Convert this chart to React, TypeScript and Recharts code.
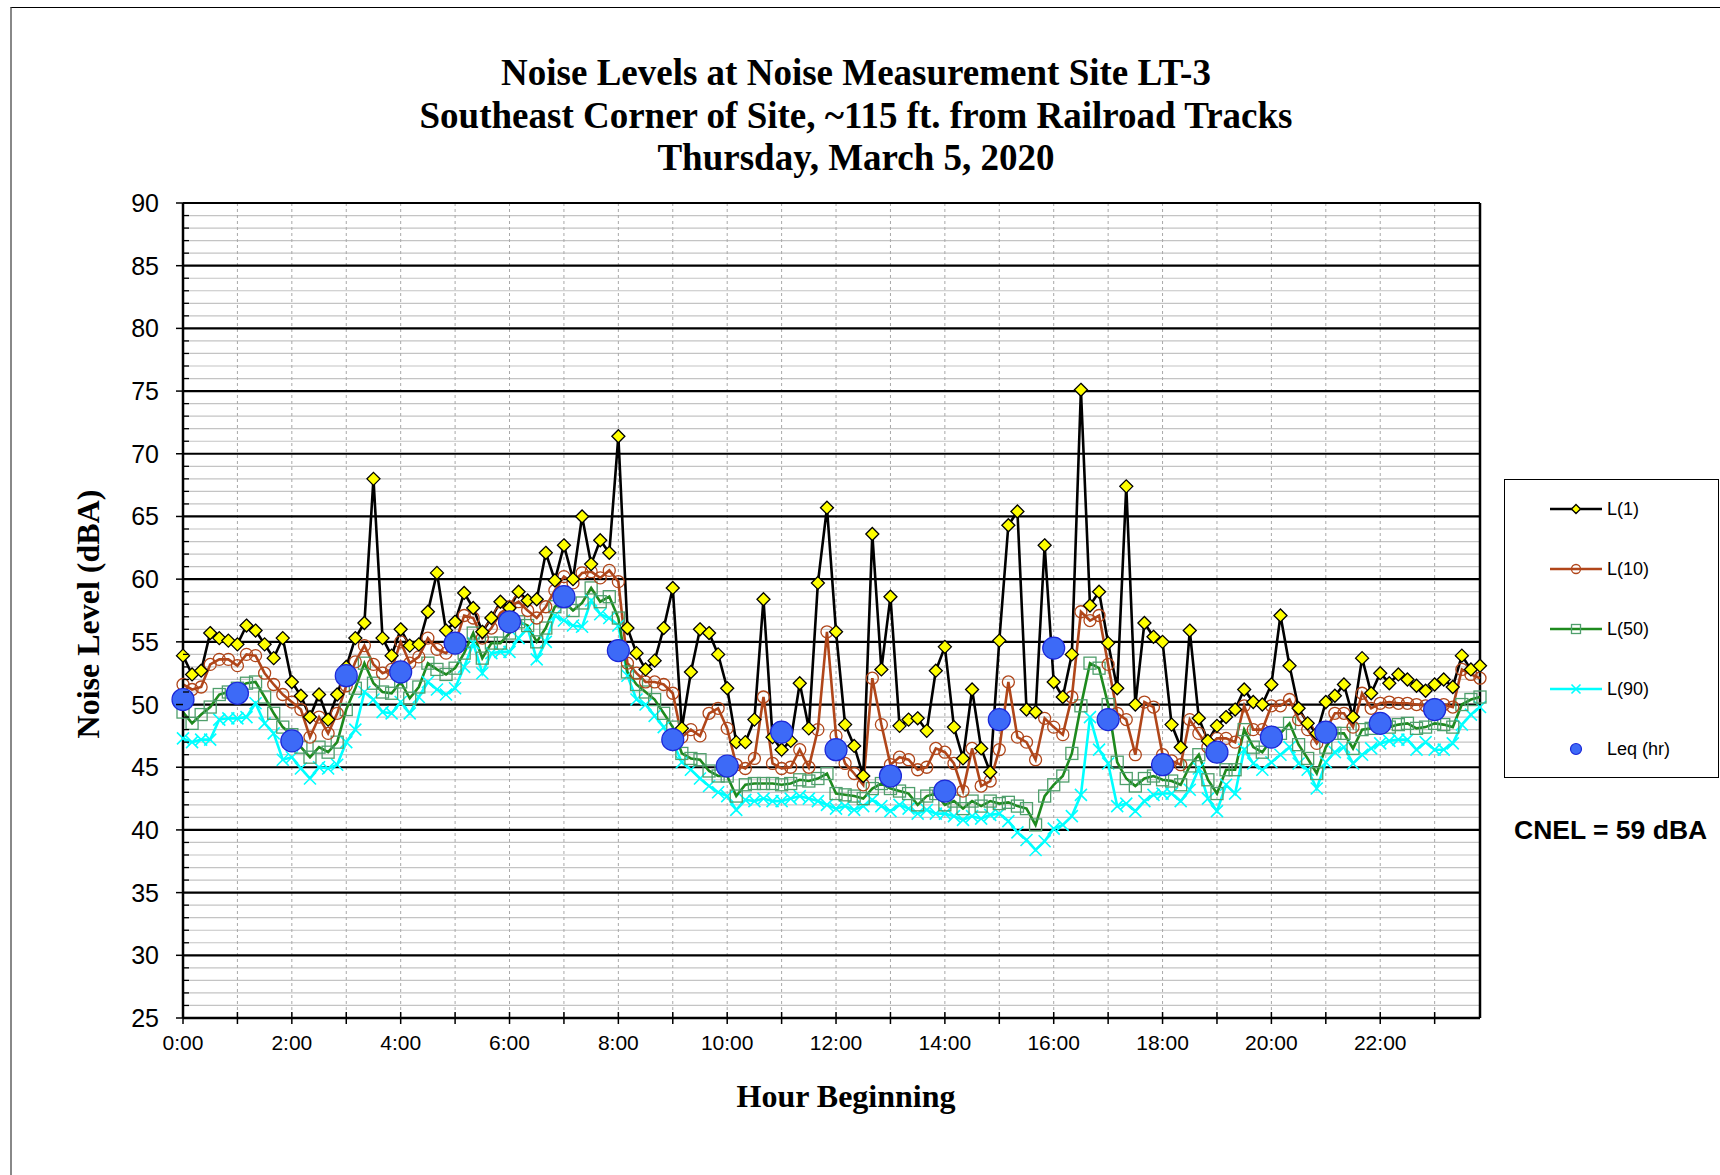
import React from 'react';
import {
  ComposedChart,
  Line,
  XAxis,
  YAxis,
  CartesianGrid,
  ReferenceLine,
} from 'recharts';

// 10-minute samples, 0:00 .. 23:50
const l1Values = [
  53.9, 52.4, 52.7, 55.7, 55.3, 55.1, 54.8, 56.3, 55.9, 54.8, 53.7, 55.3, 51.8, 50.7, 49.0, 50.8, 48.8, 50.8,
  53.0, 55.3, 56.5, 68.0, 55.3, 53.9, 56.0, 54.7, 54.8, 57.4, 60.5, 55.9, 56.6, 58.9, 57.7, 55.8, 56.9, 58.2,
  57.7, 59.0, 58.3, 58.4, 62.1, 59.9, 62.7, 60.0, 65.0, 61.2, 63.1, 62.1, 71.4, 56.1, 54.1, 52.8, 53.5, 56.1,
  59.3, 48.1, 52.6, 56.0, 55.7, 54.0, 51.3, 47.0, 47.0, 48.8, 58.4, 47.4, 46.4, 47.1, 51.7, 48.1, 59.7, 65.7,
  55.8, 48.4, 46.7, 44.3, 63.6, 52.8, 58.6, 48.3, 48.8, 48.9, 47.9, 52.7, 54.6, 48.2, 45.7, 51.2, 46.5, 44.6,
  55.1, 64.3, 65.4, 49.6, 49.4, 62.7, 51.8, 50.6, 54.0, 75.1, 57.9, 59.0, 54.9, 51.3, 67.4, 50.0, 56.5, 55.4,
  55.0, 48.4, 46.6, 55.9, 48.9, 47.1, 48.3, 49.0, 49.6, 51.2, 50.2, 50.0, 51.6, 57.1, 53.1, 49.7, 48.5, 47.7,
  50.2, 50.7, 51.6, 49.0, 53.7, 50.9, 52.5, 51.7, 52.4, 52.0, 51.5, 51.1, 51.6, 52.0, 51.4, 53.9, 52.8, 53.1,
];

const l10Values = [
  51.6, 51.2, 51.4, 53.2, 53.6, 53.6, 53.1, 54.0, 53.9, 52.5, 51.6, 50.8, 50.2, 49.6, 47.4, 49.0, 47.7, 49.3,
  51.5, 53.4, 54.7, 53.2, 52.5, 52.8, 55.0, 53.3, 53.8, 55.3, 54.4, 54.1, 54.9, 57.1, 56.9, 55.3, 56.1, 57.3,
  57.8, 58.2, 57.5, 56.9, 57.8, 59.1, 60.2, 59.7, 60.5, 60.6, 60.1, 60.7, 59.8, 53.3, 52.5, 51.8, 51.8, 51.6,
  50.9, 47.4, 48.0, 47.5, 49.3, 49.7, 48.1, 45.2, 44.9, 45.7, 50.6, 45.3, 44.9, 45.0, 46.4, 45.0, 48.0, 55.8,
  47.5, 45.3, 44.5, 43.6, 52.1, 48.4, 45.2, 45.8, 45.6, 44.8, 45.0, 46.5, 46.2, 45.3, 43.1, 46.5, 43.5, 43.9,
  46.4, 51.8, 47.4, 47.0, 45.6, 48.9, 48.2, 47.6, 50.6, 57.4, 56.7, 57.1, 53.2, 49.3, 48.8, 46.0, 50.2, 49.8,
  46.0, 45.5, 45.2, 48.8, 47.7, 46.6, 47.3, 47.3, 47.0, 49.9, 48.0, 48.0, 49.9, 49.9, 50.4, 48.8, 48.0, 46.9,
  48.0, 49.3, 49.3, 48.2, 50.9, 49.7, 50.1, 50.2, 50.1, 50.1, 50.0, 49.9, 50.0, 50.0, 49.8, 52.8, 52.4, 52.1,
];

const l50Values = [
  49.4, 48.5, 49.2, 49.8, 50.8, 51.0, 51.3, 51.7, 51.8, 50.6, 49.3, 48.2, 47.6, 46.6, 45.8, 46.6, 46.2, 47.0,
  49.6, 51.3, 53.3, 51.7, 51.0, 50.9, 51.8, 50.5, 51.4, 53.3, 52.8, 52.4, 52.9, 54.1, 55.7, 53.7, 54.9, 54.9,
  55.7, 56.6, 56.3, 55.0, 56.1, 57.8, 58.2, 57.5, 58.1, 59.3, 58.2, 58.6, 56.9, 52.6, 51.6, 51.0, 50.4, 49.3,
  48.2, 46.1, 45.7, 45.6, 44.7, 44.3, 44.3, 42.7, 43.6, 43.7, 43.7, 43.7, 43.6, 43.7, 44.0, 43.9, 44.1, 44.5,
  42.9, 42.8, 42.7, 42.5, 43.3, 43.7, 43.3, 43.1, 42.9, 42.0, 42.7, 42.9, 42.0, 42.3, 41.7, 42.3, 41.9, 42.3,
  42.1, 42.2, 41.9, 41.7, 40.4, 42.7, 43.6, 44.3, 46.1, 49.9, 53.3, 52.9, 50.0, 45.4, 44.1, 43.5, 44.1, 44.3,
  44.0, 43.9, 43.6, 45.1, 46.0, 44.0, 42.9, 44.8, 44.8, 48.0, 46.6, 46.2, 47.2, 47.7, 48.5, 46.8, 45.7, 44.5,
  46.6, 47.7, 47.7, 46.5, 48.0, 48.1, 48.4, 48.2, 48.4, 48.5, 48.1, 48.2, 48.5, 48.4, 48.2, 50.0, 50.4, 50.6,
];

const l90Values = [
  47.3, 47.0, 47.2, 47.2, 48.8, 48.9, 48.9, 49.0, 50.1, 48.5, 47.7, 45.6, 45.8, 44.9, 44.1, 45.0, 44.9, 45.2,
  47.0, 48.0, 51.0, 50.4, 49.4, 49.3, 50.2, 49.3, 50.6, 51.8, 51.2, 50.8, 51.3, 53.0, 54.9, 52.5, 54.1, 54.2,
  54.2, 55.3, 56.1, 53.6, 55.0, 57.1, 56.7, 56.3, 56.2, 58.3, 57.2, 56.9, 56.3, 52.3, 50.4, 50.0, 49.1, 48.2,
  47.0, 45.4, 44.8, 44.1, 43.5, 43.0, 42.7, 41.6, 42.4, 42.3, 42.5, 42.3, 42.3, 42.5, 42.7, 42.5, 42.3, 42.0,
  41.7, 41.9, 41.6, 41.9, 42.4, 41.9, 41.5, 42.0, 41.7, 41.3, 41.6, 41.3, 41.3, 41.1, 40.8, 41.1, 40.9, 41.2,
  41.3, 40.7, 39.8, 39.2, 38.4, 39.1, 40.1, 40.4, 41.1, 42.8, 49.0, 46.4, 45.3, 41.9, 42.1, 41.5, 42.3, 42.8,
  42.9, 42.9, 42.3, 43.2, 44.9, 42.5, 41.5, 43.6, 42.9, 46.4, 45.3, 44.8, 45.4, 46.0, 46.6, 45.3, 44.8, 43.3,
  45.4, 46.2, 46.6, 45.3, 46.0, 46.5, 46.9, 47.1, 47.2, 47.2, 46.4, 47.0, 46.4, 46.4, 46.9, 48.4, 49.2, 49.8,
];

// hourly Leq, one per hour starting 0:00
const leqHourly = [
  50.4, 50.9, 47.1, 52.3, 52.6, 54.9, 56.6, 58.6, 54.3, 47.2, 45.1, 47.8,
  46.4, 44.3, 43.1, 48.8, 54.5, 48.8, 45.2, 46.2, 47.4, 47.8, 48.5, 49.6,
];

const hourLabels = [
  '0:00', '2:00', '4:00', '6:00', '8:00', '10:00',
  '12:00', '14:00', '16:00', '18:00', '20:00', '22:00',
];

const SAMPLES_PER_HOUR = 6;

const chartData = l1Values.map((v, i) => ({
  idx: i,
  l1: v,
  l10: l10Values[i],
  l50: l50Values[i],
  l90: l90Values[i],
  leq: i % SAMPLES_PER_HOUR === 0 ? leqHourly[i / SAMPLES_PER_HOUR] : null,
}));

const hourTicks = leqHourly.map((_, h) => h * SAMPLES_PER_HOUR);
const yTicks = Array.from({ length: 66 }, (_, k) => 25 + k);
const minorY = yTicks.filter((v) => v % 5 !== 0);
const majorY = yTicks.filter((v) => v % 5 === 0);

const SANS = 'Arial, "Liberation Sans", sans-serif';
const SERIF = '"Times New Roman", "Liberation Serif", serif';

const C_L10 = '#b0461a';
const C_L50 = '#1e8a1e';
const C_L50_MARK = '#4f9f6c';
const C_L90 = '#00ffff';

// marker sizes use their own prop names so the Line's default r doesn't override them
function Diamond({ cx, cy, size = 6.5 }: any) {
  if (cx == null || cy == null) return null;
  const s = size;
  return (
    <path
      d={`M${cx},${cy - s} L${cx + s},${cy} L${cx},${cy + s} L${cx - s},${cy} Z`}
      fill="#ffff00"
      stroke="#000"
      strokeWidth={1.3}
    />
  );
}

function OpenCircle({ cx, cy, size = 6 }: any) {
  if (cx == null || cy == null) return null;
  return <circle cx={cx} cy={cy} r={size} fill="none" stroke={C_L10} strokeWidth={1.3} />;
}

function OpenSquare({ cx, cy, size = 6 }: any) {
  if (cx == null || cy == null) return null;
  const s = size;
  return (
    <rect x={cx - s} y={cy - s} width={s * 2} height={s * 2} fill="none" stroke={C_L50_MARK} strokeWidth={1.3} />
  );
}

function Cross({ cx, cy, size = 6 }: any) {
  if (cx == null || cy == null) return null;
  const s = size;
  return (
    <path
      d={`M${cx - s},${cy - s} L${cx + s},${cy + s} M${cx - s},${cy + s} L${cx + s},${cy - s}`}
      stroke={C_L90}
      strokeWidth={1.6}
    />
  );
}

function LeqDot({ cx, cy, size = 11 }: any) {
  if (cx == null || cy == null) return null;
  return <circle cx={cx} cy={cy} r={size} fill="#3d6af7" stroke="#1c28d8" strokeWidth={1.2} />;
}

// y ticks: outward tick + label every 5 dB, short inward tick every 1 dB
function YTick({ x, y, payload }: any) {
  const v = payload.value;
  if (v % 5 === 0) {
    return (
      <g>
        <line x1={x - 7} x2={x} y1={y} y2={y} stroke="#000" strokeWidth={1.5} />
        <text x={x - 24} y={y + 9} textAnchor="end" fontFamily={SANS} fontSize={25} fill="#000">
          {v}
        </text>
      </g>
    );
  }
  return <line x1={x} x2={x + 6} y1={y} y2={y} stroke="#000" strokeWidth={1.3} />;
}

function XTick({ x, y, payload }: any) {
  const h = payload.value / SAMPLES_PER_HOUR;
  return (
    <g>
      <line x1={x} x2={x} y1={y - 6} y2={y + 6} stroke="#000" strokeWidth={1.5} />
      {h % 2 === 0 && (
        <text x={x} y={y + 32} textAnchor="middle" fontFamily={SANS} fontSize={21} fill="#000">
          {hourLabels[h / 2]}
        </text>
      )}
    </g>
  );
}

const legendItems = [
  { name: 'L(1)', color: '#000', Mark: (p: any) => <Diamond {...p} size={4.5} /> },
  { name: 'L(10)', color: C_L10, Mark: (p: any) => <OpenCircle {...p} size={4.5} /> },
  { name: 'L(50)', color: C_L50, Mark: (p: any) => <OpenSquare {...p} size={4.5} /> },
  { name: 'L(90)', color: C_L90, Mark: (p: any) => <Cross {...p} size={4.5} /> },
  { name: 'Leq (hr)', color: null, Mark: (p: any) => <LeqDot {...p} size={5.5} /> },
];

function LegendBox() {
  return (
    <svg width={216} height={300} style={{ display: 'block' }}>
      <rect x={0.5} y={0.5} width={214} height={298} fill="#fff" stroke="#000" strokeWidth={1} />
      {legendItems.map((it, k) => {
        const cy = 30 + k * 60;
        return (
          <g key={it.name}>
            {it.color && <line x1={46} x2={98} y1={cy} y2={cy} stroke={it.color} strokeWidth={2.5} />}
            <it.Mark cx={72} cy={cy} />
            <text x={103} y={cy + 6} fontFamily={SANS} fontSize={18} fill="#000">
              {it.name}
            </text>
          </g>
        );
      })}
    </svg>
  );
}

export default function App() {
  return (
    <div
      style={{
        position: 'absolute',
        left: 0,
        top: 0,
        width: 1720,
        height: 1175,
        overflow: 'hidden',
        background: '#fff',
      }}
    >
      {/* outer frame */}
      <div
        style={{
          position: 'absolute',
          left: 10,
          top: 7,
          width: 1800,
          height: 1300,
          borderTop: '1px solid #000',
          borderLeft: '2px solid #888',
        }}
      />

      <div
        style={{
          position: 'absolute',
          left: 0,
          width: 1712,
          top: 52,
          textAlign: 'center',
          fontFamily: SERIF,
          fontWeight: 'bold',
          fontSize: 37,
          lineHeight: '42.5px',
          color: '#000',
        }}
      >
        <div>Noise Levels at Noise Measurement Site LT-3</div>
        <div>Southeast Corner of Site, ~115 ft. from Railroad Tracks</div>
        <div>Thursday, March 5, 2020</div>
      </div>

      <div
        style={{
          position: 'absolute',
          left: 88,
          top: 614,
          transform: 'translate(-50%, -50%) rotate(-90deg)',
          whiteSpace: 'nowrap',
          fontFamily: SERIF,
          fontWeight: 'bold',
          fontSize: 32,
        }}
      >
        Noise Level (dBA)
      </div>

      <div
        style={{
          position: 'absolute',
          left: 846,
          top: 1096,
          transform: 'translate(-50%, -50%)',
          whiteSpace: 'nowrap',
          fontFamily: SERIF,
          fontWeight: 'bold',
          fontSize: 32,
        }}
      >
        Hour Beginning
      </div>

      <div
        style={{
          position: 'absolute',
          left: 1514,
          top: 830,
          transform: 'translateY(-50%)',
          whiteSpace: 'nowrap',
          fontFamily: SANS,
          fontWeight: 'bold',
          fontSize: 26.5,
        }}
      >
        CNEL = 59 dBA
      </div>

      <div style={{ position: 'absolute', left: 1504, top: 479 }}>
        <LegendBox />
      </div>

      <div style={{ position: 'absolute', left: 0, top: 0 }}>
        <ComposedChart
          width={1720}
          height={1175}
          data={chartData}
          margin={{ top: 203, right: 240, bottom: 117, left: 123 }}
        >
          <CartesianGrid horizontalValues={minorY} vertical={false} stroke="#c4c4c4" strokeWidth={1.2} />
          <CartesianGrid
            verticalValues={hourTicks.slice(1)}
            horizontal={false}
            stroke="#a8a8a8"
            strokeWidth={1}
            strokeDasharray="3 3"
          />
          <CartesianGrid horizontalValues={majorY} vertical={false} stroke="#000" strokeWidth={2.2} />
          <XAxis
            type="number"
            dataKey="idx"
            domain={[0, 143]}
            ticks={hourTicks}
            interval={0}
            height={40}
            tickSize={0}
            tickMargin={0}
            tickLine={false}
            axisLine={{ stroke: '#000', strokeWidth: 2.5 }}
            tick={<XTick />}
          />
          <YAxis
            type="number"
            domain={[25, 90]}
            ticks={yTicks}
            interval={0}
            width={60}
            tickSize={0}
            tickMargin={0}
            tickLine={false}
            axisLine={{ stroke: '#000', strokeWidth: 2.5 }}
            tick={<YTick />}
          />
          <ReferenceLine x={143} stroke="#000" strokeWidth={2.5} />
          <Line
            type="linear"
            dataKey="l90"
            name="L(90)"
            stroke={C_L90}
            strokeWidth={2.6}
            dot={<Cross />}
            activeDot={false}
            isAnimationActive={false}
          />
          <Line
            type="linear"
            dataKey="l50"
            name="L(50)"
            stroke={C_L50}
            strokeWidth={2.6}
            dot={<OpenSquare />}
            activeDot={false}
            isAnimationActive={false}
          />
          <Line
            type="linear"
            dataKey="l10"
            name="L(10)"
            stroke={C_L10}
            strokeWidth={2.6}
            dot={<OpenCircle />}
            activeDot={false}
            isAnimationActive={false}
          />
          <Line
            type="linear"
            dataKey="l1"
            name="L(1)"
            stroke="#000"
            strokeWidth={2.6}
            dot={<Diamond />}
            activeDot={false}
            isAnimationActive={false}
          />
          <Line
            type="linear"
            dataKey="leq"
            name="Leq (hr)"
            stroke="none"
            dot={<LeqDot />}
            activeDot={false}
            isAnimationActive={false}
          />
        </ComposedChart>
      </div>
    </div>
  );
}
